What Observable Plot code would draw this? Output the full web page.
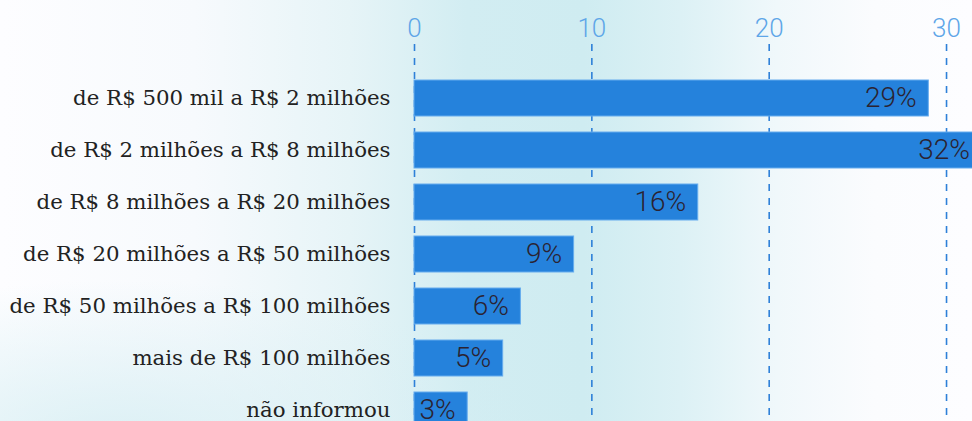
<!DOCTYPE html>
<html>
<head>
<meta charset="utf-8">
<script src="https://cdn.jsdelivr.net/npm/d3@7"></script>
<script src="https://cdn.jsdelivr.net/npm/@observablehq/plot@0.6"></script>
<style>
  html, body { margin: 0; padding: 0; width: 972px; height: 421px; overflow: hidden; }
  body {
    background:
      radial-gradient(ellipse 420px 160px at 120px 440px, rgba(214,238,243,0.85), rgba(214,238,243,0) 100%),
      linear-gradient(90deg, #fdfdff 0%, #f7fafd 20%, #e6f4f7 36%, #d2edf2 48%, #cfecf1 60%, #dcf1f5 70%, #f0f8fb 80%, #fbfcfe 90%, #fdfdff 100%);
  }
  #chart svg { display: block; }
</style>
</head>
<body>
<div id="chart"></div>
<script>
const categories = [
  "de R$ 500 mil a R$ 2 milhões",
  "de R$ 2 milhões a R$ 8 milhões",
  "de R$ 8 milhões a R$ 20 milhões",
  "de R$ 20 milhões a R$ 50 milhões",
  "de R$ 50 milhões a R$ 100 milhões",
  "mais de R$ 100 milhões",
  "não informou"
];
const values = [29, 32, 16, 9, 6, 5, 3];
const xTicks = [0, 10, 20, 30];

const data = categories.map((c, i) => ({category: c, value: values[i], label: values[i] + "%"}));

const chart = Plot.plot({
  width: 972,
  height: 421,
  marginTop: 44,
  marginBottom: 0,
  marginLeft: 414,
  marginRight: 0,
  style: {background: "transparent", overflow: "hidden"},
  x: {domain: [0, 32], range: [414, 981.5], label: null},
  y: {domain: categories, range: [61.8, 445.8], padding: 0.314, label: null},
  marks: [
    Plot.gridX(xTicks, {stroke: "#2e80d8", strokeOpacity: 1, strokeWidth: 1.6, strokeDasharray: "7,7"}),
    Plot.axisX({
      anchor: "top", ticks: xTicks, tickSize: 0, tickPadding: 8, label: null,
      fontSize: 26, fill: "#5ea6e8", fontFamily: "Roboto", fontWeight: 300,
      tickFormat: d => String(d)
    }),
    Plot.axisY({
      anchor: "left", tickSize: 0, tickPadding: 24, label: null,
      fontSize: 21.3, fill: "#222", fontFamily: "DejaVu Serif"
    }),
    Plot.barX(data, {y: "category", x: "value", fill: "#2582dc", stroke: "#66acee", strokeWidth: 1}),
    Plot.text(data, {
      y: "category", x: "value", text: "label", textAnchor: "end", dx: -12,
      fontSize: 28, fill: "#2b2331", fontFamily: "Roboto", fontWeight: 300
    })
  ]
});
document.getElementById("chart").appendChild(chart);
</script>
</body>
</html>
